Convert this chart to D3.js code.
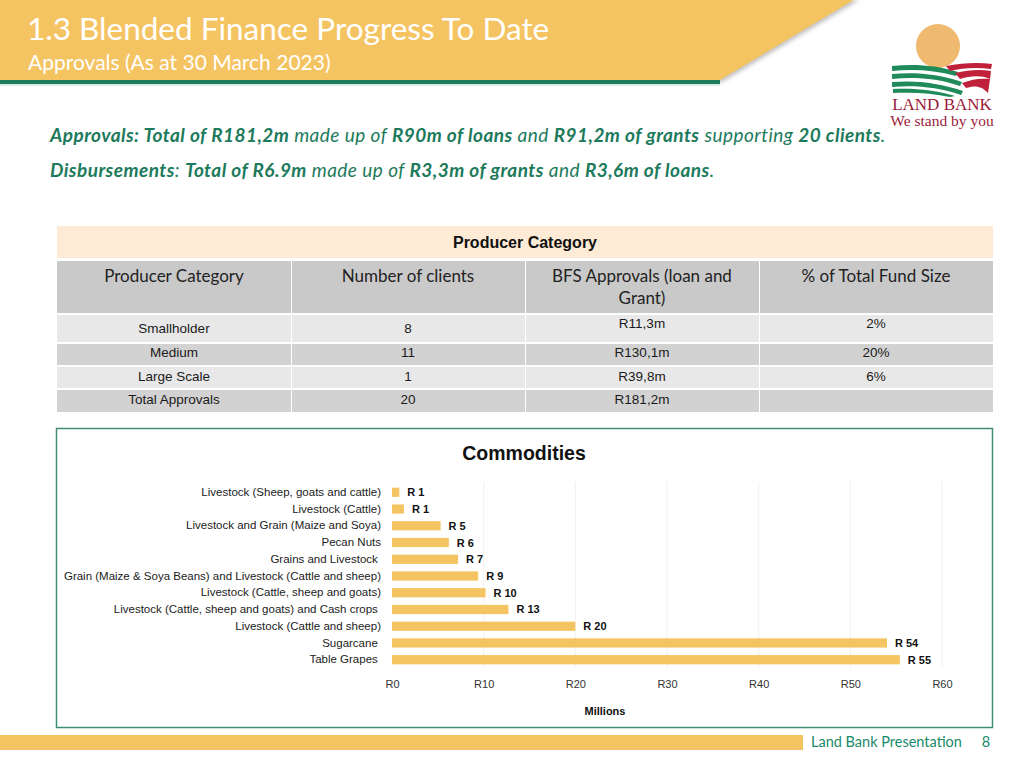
<!DOCTYPE html>
<html>
<head>
<meta charset="utf-8">
<script src="https://cdn.jsdelivr.net/npm/d3@7/dist/d3.min.js"></script>
<style>
  html, body { margin: 0; padding: 0; background: #ffffff; }
  svg { display: block; }
</style>
</head>
<body>
<svg id="slide" width="1024" height="768"></svg>
<script>
// ---------------- DATA ----------------
const slideTitle = "1.3 Blended Finance Progress To Date";
const slideSubtitle = "Approvals (As at 30 March 2023)";

const tableTitle = "Producer Category";
const tableHeaders = ["Producer Category", "Number of clients", "BFS Approvals (loan and|Grant)", "% of Total Fund Size"];
const producerCategories = ["Smallholder", "Medium", "Large Scale", "Total Approvals"];
const clientCounts = ["8", "11", "1", "20"];
const bfsApprovals = ["R11,3m", "R130,1m", "R39,8m", "R181,2m"];
const fundShares = ["2%", "20%", "6%", ""];

const chartTitle = "Commodities";
const commodities = [
  "Livestock (Sheep, goats and cattle)",
  "Livestock (Cattle)",
  "Livestock and Grain (Maize and Soya)",
  "Pecan Nuts",
  "Grains and Livestock ",
  "Grain (Maize & Soya Beans) and Livestock (Cattle and sheep)",
  "Livestock (Cattle, sheep and goats)",
  "Livestock (Cattle, sheep and goats) and Cash crops ",
  "Livestock (Cattle and sheep)",
  "Sugarcane ",
  "Table Grapes "
];
const commodityValues = [0.8, 1.3, 5.3, 6.2, 7.2, 9.4, 10.2, 12.7, 20, 54, 55.4];
const xTicks = [0, 10, 20, 30, 40, 50, 60];
const xAxisTitle = "Millions";

// ---------------- DRAW ----------------
const svg = d3.select("#slide");
const GREEN = "#1d7a5c";
const ORANGE = "#f5c462";

// Header band
svg.append("polygon")
  .attr("points", "-2,-2 857,-2 720,80 -2,80")
  .attr("fill", ORANGE)
  .style("filter", "drop-shadow(2px 2px 2px rgba(0,0,0,0.25))");
svg.append("rect").attr("x", 0).attr("y", 80).attr("width", 720).attr("height", 4).attr("fill", "#1f7d5c");
svg.append("rect").attr("x", 0).attr("y", 84).attr("width", 720).attr("height", 2).attr("fill", "#d9ede6");

svg.append("text").attr("x", 27).attr("y", 40)
  .attr("font-family", "Lato, 'Open Sans', sans-serif").attr("font-size", 31.5)
  .attr("fill", "#ffffff").text(slideTitle);
svg.append("text").attr("x", 28).attr("y", 70)
  .attr("font-family", "Lato, 'Open Sans', sans-serif").attr("font-size", 21)
  .attr("fill", "#ffffff").text(slideSubtitle);

// Logo
const logo = svg.append("g");
logo.append("circle").attr("cx", 938).attr("cy", 46).attr("r", 22).attr("fill", "#f0b970");
const greenBands = [
  "M892,66 C915,64 935,65 958,72 L956,76 C934,70 914,69 892,71 Z",
  "M892,74 C916,72 938,74 962,82 L960,86 C936,78 914,77 892,79 Z",
  "M892,82 C916,80 940,83 963,91 L961,95 C938,87 914,85 892,87 Z",
  "M893,89 C915,88 935,90 955,96 L950,97 C932,93 914,92 893,93 Z"
];
greenBands.forEach(d => logo.append("path").attr("d", d).attr("fill", "#1f8a5a"));
const redBands = [
  "M946,66 C962,63 978,62 992,64 L991,69 C976,67 962,68 950,71 Z",
  "M955,73 C968,70 980,69 991,71 L990,79 C981,75 970,76 960,79 Z",
  "M962,83 C972,79 981,78 990,79 L988,93 C982,86 975,85 966,88 Z"
];
redBands.forEach(d => logo.append("path").attr("d", d).attr("fill", "#c0203a"));
logo.append("text").attr("x", 942).attr("y", 110).attr("text-anchor", "middle")
  .attr("font-family", "'Liberation Serif', serif").attr("font-size", 17)
  .attr("fill", "#9c1c3a").text("LAND BANK");
logo.append("text").attr("x", 942).attr("y", 126).attr("text-anchor", "middle")
  .attr("font-family", "'Liberation Serif', serif").attr("font-size", 15.5)
  .attr("fill", "#9c1c3a").text("We stand by you");

// Summary lines
const line1 = [
  ["Approvals: Total of R181,2m", true], [" made up of ", false], ["R90m of loans", true],
  [" and ", false], ["R91,2m of grants", true], [" supporting ", false], ["20 clients", true], [".", false]
];
const line2 = [
  ["Disbursements", true], [": ", false], ["Total of R6.9m", true], [" made up of ", false],
  ["R3,3m of grants", true], [" and ", false], ["R3,6m of loans", true], [".", false]
];
[[line1, 142], [line2, 177]].forEach(([parts, y]) => {
  const t = svg.append("text").attr("x", 50).attr("y", y)
    .attr("font-family", "Lato, 'Open Sans', sans-serif").attr("font-size", 19)
    .attr("letter-spacing", 0.45)
    .attr("font-style", "italic").attr("fill", GREEN).attr("xml:space", "preserve");
  parts.forEach(([s, b]) => t.append("tspan").attr("font-weight", b ? "bold" : "normal").text(s));
});

// Table
const colX = [57, 291, 525, 759, 993];
const tbl = svg.append("g");
tbl.append("rect").attr("x", 57).attr("y", 226).attr("width", 936).attr("height", 32).attr("fill", "#fdebd6");
tbl.append("text").attr("x", 525).attr("y", 248).attr("text-anchor", "middle")
  .attr("font-family", "'Liberation Sans', Arial, sans-serif").attr("font-weight", "bold")
  .attr("font-size", 16).attr("fill", "#111").text(tableTitle);

const rowsY = [[261, 313], [315, 342], [344, 365], [367, 388], [390, 412]];
const rowFill = ["#c9c9c9", "#e8e8e8", "#d2d2d2", "#e8e8e8", "#d2d2d2"];
rowsY.forEach(([y0, y1], r) => {
  for (let c = 0; c < 4; c++) {
    tbl.append("rect").attr("x", colX[c] + (c ? 1 : 0)).attr("y", y0)
      .attr("width", colX[c + 1] - colX[c] - (c ? 1 : 0)).attr("height", y1 - y0)
      .attr("fill", rowFill[r]);
  }
});
tableHeaders.forEach((h, c) => {
  const cx = (colX[c] + colX[c + 1]) / 2;
  h.split("|").forEach((ln, i) => {
    tbl.append("text").attr("x", cx).attr("y", 282 + i * 22).attr("text-anchor", "middle")
      .attr("font-family", "Lato, 'Open Sans', sans-serif").attr("font-size", 17)
      .attr("fill", "#222").text(ln);
  });
});
const cols = [producerCategories, clientCounts, bfsApprovals, fundShares];
const rowTextY = [[333, 333, 328, 328], [357, 357, 357, 357], [381, 381, 381, 381], [404, 404, 404, 404]];
cols.forEach((arr, c) => {
  const cx = (colX[c] + colX[c + 1]) / 2;
  arr.forEach((v, r) => {
    tbl.append("text").attr("x", cx).attr("y", rowTextY[r][c]).attr("text-anchor", "middle")
      .attr("font-family", "'Liberation Sans', Arial, sans-serif").attr("font-size", 13.5)
      .attr("fill", "#1a1a1a").text(v);
  });
});

// Chart box
svg.append("rect").attr("x", 56.5).attr("y", 428.5).attr("width", 936).attr("height", 299)
  .attr("fill", "#fff").attr("stroke", "#3f8f72").attr("stroke-width", 1.5);
svg.append("text").attr("x", 524).attr("y", 460).attr("text-anchor", "middle")
  .attr("font-family", "'Liberation Sans', Arial, sans-serif").attr("font-weight", "bold")
  .attr("font-size", 19.5).attr("fill", "#111").text(chartTitle);

const x = d3.scaleLinear().domain([0, 60]).range([392, 942]);
const y = d3.scaleBand().domain(commodities).range([484, 668]).paddingInner(0.45).paddingOuter(0.22);

const chart = svg.append("g");
chart.selectAll("line.grid").data(xTicks.slice(1)).join("line")
  .attr("class", "grid")
  .attr("x1", d => x(d)).attr("x2", d => x(d)).attr("y1", 482).attr("y2", 668)
  .attr("stroke", "#f3f0ec").attr("stroke-width", 1);

const xAxis = chart.append("g").attr("transform", "translate(0,672)")
  .call(d3.axisBottom(x).tickValues(xTicks).tickFormat(d => "R" + d).tickSize(0).tickPadding(8));
xAxis.select(".domain").remove();
xAxis.selectAll("text").attr("font-family", "'Liberation Sans', Arial, sans-serif")
  .attr("font-size", 11).attr("fill", "#333");

const yAxis = chart.append("g").attr("transform", "translate(381,0)")
  .call(d3.axisLeft(y).tickSize(0).tickPadding(0));
yAxis.select(".domain").remove();
yAxis.selectAll("text").attr("font-family", "'Liberation Sans', Arial, sans-serif")
  .attr("font-size", 11.5).attr("fill", "#222").attr("xml:space", "preserve");

chart.selectAll("rect.bar").data(commodityValues).join("rect")
  .attr("class", "bar")
  .attr("x", x(0)).attr("y", (d, i) => y(commodities[i]))
  .attr("width", d => x(d) - x(0)).attr("height", y.bandwidth())
  .attr("fill", "#f5c462");

chart.selectAll("text.val").data(commodityValues).join("text")
  .attr("class", "val")
  .attr("x", d => x(d) + 8).attr("y", (d, i) => y(commodities[i]) + y.bandwidth() / 2 + 4)
  .attr("font-family", "'Liberation Sans', Arial, sans-serif").attr("font-weight", "bold")
  .attr("font-size", 11).attr("fill", "#111")
  .text(d => "R " + Math.round(d));

svg.append("text").attr("x", 605).attr("y", 715).attr("text-anchor", "middle")
  .attr("font-family", "'Liberation Sans', Arial, sans-serif").attr("font-weight", "bold")
  .attr("font-size", 11).attr("fill", "#111").text(xAxisTitle);

// Footer
svg.append("rect").attr("x", 0).attr("y", 735).attr("width", 803).attr("height", 15).attr("fill", ORANGE);
svg.append("text").attr("x", 811).attr("y", 747)
  .attr("font-family", "Lato, 'Open Sans', sans-serif").attr("font-size", 14.5)
  .attr("fill", "#1a8a6a").text("Land Bank Presentation");
svg.append("text").attr("x", 986).attr("y", 747).attr("text-anchor", "middle")
  .attr("font-family", "Lato, 'Open Sans', sans-serif").attr("font-size", 14.5)
  .attr("fill", "#1a8a6a").text("8");
</script>
</body>
</html>
